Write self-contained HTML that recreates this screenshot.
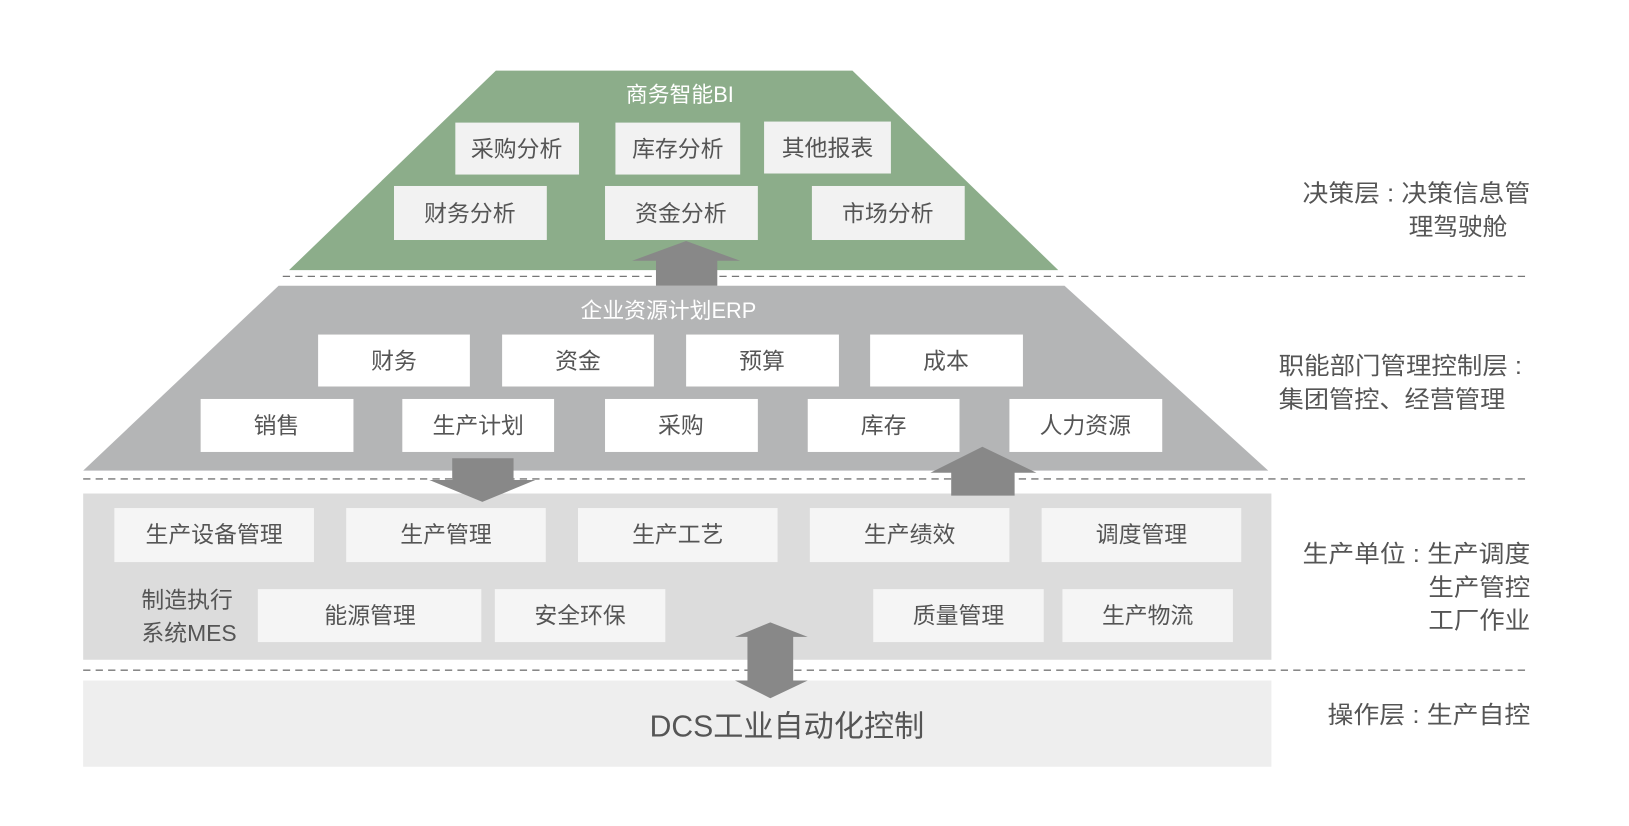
<!DOCTYPE html>
<html><head><meta charset="utf-8"><style>
html,body{margin:0;padding:0;background:#fff;}
svg{display:block;}
text{font-family:"Liberation Sans","Noto Sans CJK SC",sans-serif;fill:#555;}
</style></head><body>
<svg width="1629" height="826" viewBox="0 0 1567 795" preserveAspectRatio="none" xmlns="http://www.w3.org/2000/svg">
<rect width="1567" height="795" fill="#fff"/>
<polygon points="477,68 820,68 1018,260 278,260" fill="#8cad8a"/>
<polygon points="268,275 1024,275 1220,453 80,453" fill="#b4b5b6"/>
<rect x="80" y="475" width="1143" height="160" fill="#dcdcdc"/>
<rect x="80" y="655" width="1143" height="83" fill="#eeeeee"/>
<g stroke="#777" stroke-width="1.3" stroke-dasharray="7,5">
<line x1="272" y1="266" x2="1472" y2="266"/>
<line x1="80" y1="461" x2="1472" y2="461"/>
<line x1="80" y1="645" x2="1472" y2="645"/>
</g>
<text x="654" y="98" font-size="21" text-anchor="middle" style="fill:#fff">商务智能BI</text>
<g fill="#f2f2f2">
<rect x="438" y="118" width="119" height="50"/><rect x="592" y="118" width="120" height="50"/><rect x="735" y="117" width="122" height="50"/>
<rect x="379" y="179" width="147" height="52"/><rect x="582" y="179" width="147" height="52"/><rect x="781" y="179" width="147" height="52"/>
</g>
<g font-size="22" text-anchor="middle">
<text x="497" y="151">采购分析</text><text x="652" y="151">库存分析</text><text x="796" y="150">其他报表</text>
<text x="452" y="213">财务分析</text><text x="655" y="213">资金分析</text><text x="854" y="213">市场分析</text>
</g>
<text x="643" y="306" font-size="21" text-anchor="middle" style="fill:#fff">企业资源计划ERP</text>
<g fill="#fff">
<rect x="306" y="322" width="146" height="50"/><rect x="483" y="322" width="146" height="50"/><rect x="660" y="322" width="147" height="50"/><rect x="837" y="322" width="147" height="50"/>
<rect x="193" y="384" width="147" height="51"/><rect x="387" y="384" width="146" height="51"/><rect x="582" y="384" width="147" height="51"/><rect x="777" y="384" width="146" height="51"/><rect x="971" y="384" width="147" height="51"/>
</g>
<g font-size="22" text-anchor="middle">
<text x="379" y="355">财务</text><text x="556" y="355">资金</text><text x="733" y="355">预算</text><text x="910" y="355">成本</text>
<text x="266" y="417">销售</text><text x="460" y="417">生产计划</text><text x="655" y="417">采购</text><text x="850" y="417">库存</text><text x="1044" y="417">人力资源</text>
</g>
<g fill="#f5f5f5">
<rect x="110" y="489" width="192" height="52"/><rect x="333" y="489" width="192" height="52"/><rect x="556" y="489" width="192" height="52"/><rect x="779" y="489" width="192" height="52"/><rect x="1002" y="489" width="192" height="52"/>
<rect x="248" y="567" width="215" height="51"/><rect x="476" y="567" width="164" height="51"/><rect x="840" y="567" width="164" height="51"/><rect x="1022" y="567" width="164" height="51"/>
</g>
<g font-size="22" text-anchor="middle">
<text x="206" y="522">生产设备管理</text><text x="429" y="522">生产管理</text><text x="652" y="522">生产工艺</text><text x="875" y="522">生产绩效</text><text x="1098" y="522">调度管理</text>
<text x="356" y="600">能源管理</text><text x="558" y="600">安全环保</text><text x="922" y="600">质量管理</text><text x="1104" y="600">生产物流</text>
</g>
<text x="136" y="585" font-size="22">制造执行</text>
<text x="136" y="617" font-size="22">系统MES</text>
<text x="757" y="709" font-size="29" text-anchor="middle">DCS工业自动化控制</text>
<g fill="#888">
<polygon points="631,275 631,251 608,251 660,232 712,251 690,251 690,275"/>
<polygon points="435,441 494,441 494,462 515,462 464,483 413,462 435,462"/>
<polygon points="915,477 915,455 895,455 945,430 997,455 976,455 976,477"/>
<polygon points="741,599 777,613 763,613 763,655 777,655 741,672 707,655 719,655 719,613 707,613"/>
</g>
<g font-size="23">
<text x="1253" y="194" textLength="219" lengthAdjust="spacingAndGlyphs">决策层 : 决策信息管</text>
<text x="1355" y="226" textLength="95" lengthAdjust="spacingAndGlyphs">理驾驶舱</text>
<text x="1230" y="360" textLength="234" lengthAdjust="spacingAndGlyphs">职能部门管理控制层 :</text>
<text x="1230" y="392" textLength="218" lengthAdjust="spacingAndGlyphs">集团管控、经营管理</text>
<text x="1253" y="541" textLength="219" lengthAdjust="spacingAndGlyphs">生产单位 : 生产调度</text>
<text x="1374" y="573" textLength="98" lengthAdjust="spacingAndGlyphs">生产管控</text>
<text x="1374" y="605" textLength="98" lengthAdjust="spacingAndGlyphs">工厂作业</text>
<text x="1277" y="696" textLength="195" lengthAdjust="spacingAndGlyphs">操作层 : 生产自控</text>
</g>
</svg>
</body></html>
